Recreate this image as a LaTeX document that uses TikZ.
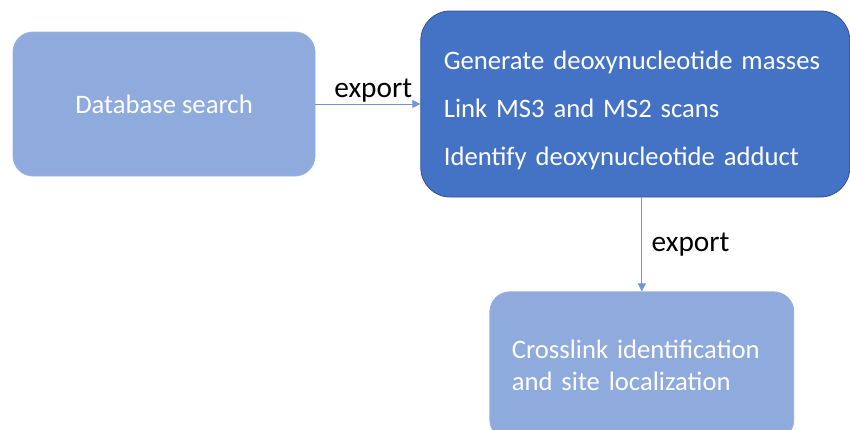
\documentclass[tikz,border=0pt]{standalone}
\usepackage{fontspec}
\setmainfont{Carlito}
\usepackage{tikz}
\usetikzlibrary{arrows.meta,positioning}
\definecolor{xlpale}{HTML}{8FAADC}
\definecolor{xldeep}{HTML}{4472C4}
\definecolor{xledge}{HTML}{2F528F}
\tikzset{%
  xlbox/.style={%
    draw=xlpale!90!white,
    fill=xlpale,
    text=white,
    rounded corners=15pt,
    line width=0.6pt,
    font=\fontsize{20}{24}\selectfont
  },
  xlmain/.style={%
    xlbox,
    draw=xledge,
    fill=xldeep,
    rounded corners=22pt,
    align=left,
    font=\fontsize{20}{36}\selectfont
  },
  xlarrow/.style={-{Triangle[length=6pt,width=6pt]},line width=0.75pt,draw=xldeep!75!white},
  xllabel/.style={font=\fontsize{22}{26}\selectfont,text=black,inner sep=1pt}
}
\begin{document}
\begin{tikzpicture}[node distance=70.5pt and 78.75pt]
    \useasboundingbox (0,0) rectangle (637.5pt,-321.75pt);
    \clip (0,0) rectangle (637.5pt,-321.75pt);
    \node[xlbox,minimum width=226.5pt,minimum height=108pt] (search) at (123pt,-78pt) {Database search};
    \node[xlmain,text width=287.25pt,inner xsep=17.25pt,minimum height=139.5pt,right=of search] (adduct) {\rule{0pt}{23pt}Generate deoxynucleotide masses\\Link MS3 and MS2 scans\\Identify deoxynucleotide adduct};
    \node[xlbox,align=left,text width=195pt,inner xsep=16.5pt,minimum height=111pt,below=of adduct,xshift=4.9pt] (site) {Crosslink identification\\and site localization};

    \draw[xlarrow] (search) -- node[xllabel,above,xshift=4pt] {export} (adduct);
    \draw[xlarrow] (site.north |- adduct.south) -- node[xllabel,right,xshift=6pt] {export} (site.north);
  \end{tikzpicture}
\end{document}
